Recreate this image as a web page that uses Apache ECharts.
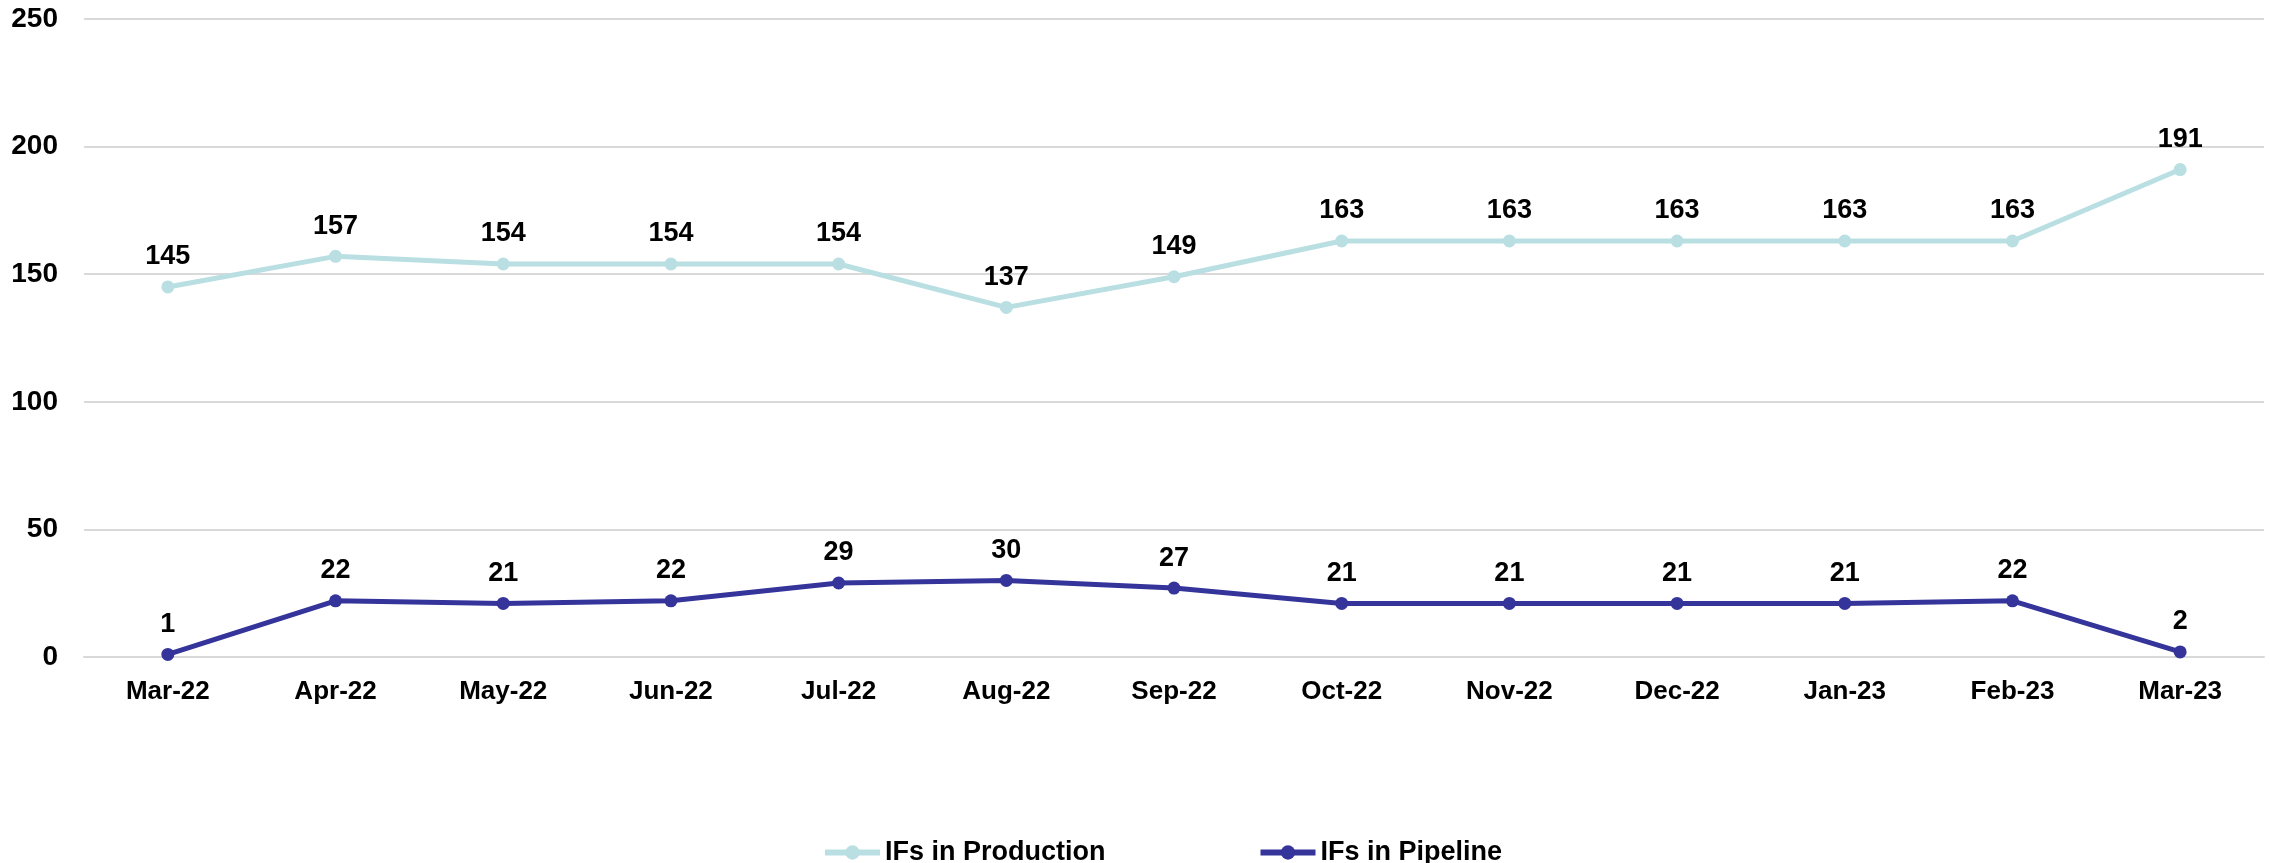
<!DOCTYPE html>
<html>
<head>
<meta charset="utf-8">
<script src="https://cdn.jsdelivr.net/npm/echarts@6/dist/echarts.min.js"></script>
<style>
  html, body { margin: 0; padding: 0; background: #fff; }
</style>
</head>
<body>
<div id="main" style="width: 2270px; height: 863px"></div>
<script>
var months = ["Mar-22", "Apr-22", "May-22", "Jun-22", "Jul-22", "Aug-22", "Sep-22",
  "Oct-22", "Nov-22", "Dec-22", "Jan-23", "Feb-23", "Mar-23"];
var production = [145, 157, 154, 154, 154, 137, 149, 163, 163, 163, 163, 163, 191];
var pipeline = [1, 22, 21, 22, 29, 30, 27, 21, 21, 21, 21, 22, 2];

var fontName = "Liberation Sans, Arial, sans-serif";

var chartDom = document.getElementById("main");
var myChart = echarts.init(chartDom);
var option;
option = {
  animation: false,
  grid: {
    left: 84,
    right: 6,
    top: 19,
    bottom: 206,
  },
  legend: {
    left: 817,
    top: 834,
    itemWidth: 55,
    itemHeight: 18,
    itemGap: 152,
    lineStyle: { width: 6 },
    textStyle: {
      fontFamily: fontName,
      fontWeight: "bold",
      fontSize: 27,
      color: "#000",
    },
    data: ["IFs in Production", "IFs in Pipeline"],
  },
  xAxis: {
    type: "category",
    data: months,
    boundaryGap: true,
    axisLine: { show: true, lineStyle: { color: "#d9d9d9", width: 2 } },
    axisTick: { show: false },
    axisLabel: {
      margin: 22,
      fontFamily: fontName,
      fontWeight: "bold",
      fontSize: 26,
      color: "#000",
    },
  },
  yAxis: {
    type: "value",
    min: 0,
    max: 250,
    interval: 50,
    axisLine: { show: false },
    axisTick: { show: false },
    splitLine: { lineStyle: { color: "#d9d9d9", width: 2 } },
    axisLabel: {
      margin: 26,
      fontFamily: fontName,
      fontWeight: "bold",
      fontSize: 28,
      color: "#000",
    },
  },
  series: [
    {
      name: "IFs in Production",
      type: "line",
      data: production,
      symbol: "circle",
      symbolSize: 13,
      lineStyle: { width: 5, color: "#B9DFE3" },
      itemStyle: { color: "#B9DFE3" },
      label: {
        show: true,
        position: "top",
        distance: 10,
        fontFamily: fontName,
        fontWeight: "bold",
        fontSize: 27,
        color: "#000",
      },
    },
    {
      name: "IFs in Pipeline",
      type: "line",
      data: pipeline,
      symbol: "circle",
      symbolSize: 13,
      lineStyle: { width: 5, color: "#34349B" },
      itemStyle: { color: "#34349B" },
      label: {
        show: true,
        position: "top",
        distance: 10,
        fontFamily: fontName,
        fontWeight: "bold",
        fontSize: 27,
        color: "#000",
      },
    },
  ],
};
myChart.setOption(option);
</script>
</body>
</html>
